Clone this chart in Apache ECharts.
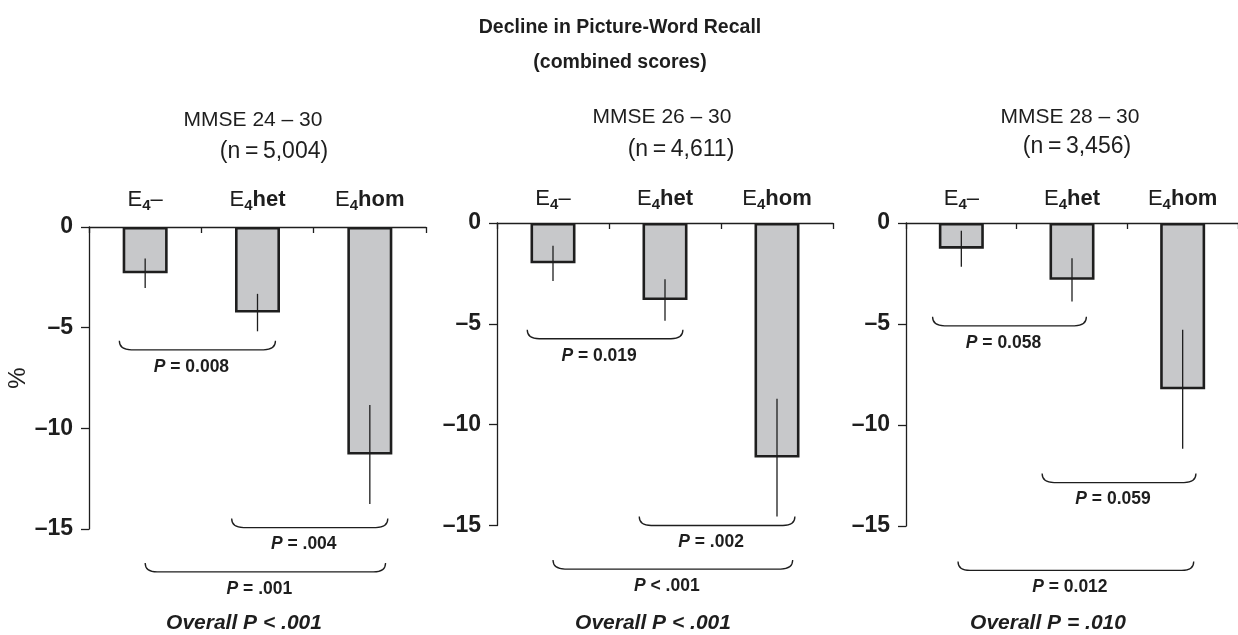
<!DOCTYPE html>
<html><head><meta charset="utf-8">
<script src="https://cdn.jsdelivr.net/npm/echarts@6/dist/echarts.min.js"></script>
<style>html,body{margin:0;padding:0;background:#fff}#c{width:1238px;height:635px}</style>
</head><body><div id="c"></div>
<script>
// ---------- data ----------
const categories = ['E4–', 'E4het', 'E4hom'];
const yTicks = [0, -5, -10, -15];
const chartTitle = 'Decline in Picture-Word Recall';
const chartSubtitle = '(combined scores)';
const panelTitles = ['MMSE 24 – 30', 'MMSE 26 – 30', 'MMSE 28 – 30'];
const panelN = ['(n\u2009=\u20095,004)', '(n\u2009=\u20094,611)', '(n\u2009=\u20093,456)'];
const overallP = ['Overall P < .001', 'Overall P < .001', 'Overall P = .010'];

const values1 = [-2.3, -4.25, -11.3];
const errors1 = [0.73, 0.93, 2.46];
const values2 = [-2.0, -3.82, -11.63];
const errors2 = [0.87, 1.03, 2.92];
const values3 = [-1.27, -2.81, -8.23];
const errors3 = [0.89, 1.07, 2.95];

// brackets: span in category index units, level in % units, p-value text
const bracketFrom1 = [-0.23, 0.77, 0.0];
const bracketTo1 = [1.16, 2.16, 2.14];
const bracketLevel1 = [-6.1, -14.93, -17.13];
const bracketP1 = ['= 0.008', '= .004', '= .001'];
const bracketFrom2 = [-0.23, 0.77, 0.0];
const bracketTo2 = [1.16, 2.16, 2.14];
const bracketLevel2 = [-5.74, -15.0, -17.16];
const bracketP2 = ['= 0.019', '= .002', '< .001'];
const bracketFrom3 = [-0.26, 0.73, -0.03];
const bracketTo3 = [1.13, 2.12, 2.10];
const bracketLevel3 = [-5.09, -12.85, -17.2];
const bracketP3 = ['= 0.058', '= 0.059', '= 0.012'];

// ---------- layout / style ----------
const FONT = '"Liberation Sans", Arial, Helvetica, sans-serif';
const INK = '#1e1e1e';
const panels = [
  { values: values1, errors: errors1, from: bracketFrom1, to: bracketTo1, level: bracketLevel1, p: bracketP1 },
  { values: values2, errors: errors2, from: bracketFrom2, to: bracketTo2, level: bracketLevel2, p: bracketP2 },
  { values: values3, errors: errors3, from: bracketFrom3, to: bracketTo3, level: bracketLevel3, p: bracketP3 }
];
const grids = [
  { left: 89, top: 227, width: 337, height: 302 },
  { left: 497, top: 223, width: 336, height: 302.5 },
  { left: 906, top: 223, width: 337, height: 303 }
];
const catMargins = [14, 11, 11];
const headerPos = [
  { t: [253, 120], n: [274, 152] },
  { t: [662, 117], n: [681, 150] },
  { t: [1070, 117], n: [1077, 147] }
];
const overallPos = [[244, 623], [653, 623], [1048, 623]];

const catRich = {
  e: { fontSize: 22, fontFamily: FONT, color: INK, lineHeight: 26, verticalAlign: 'middle' },
  b: { fontSize: 22, fontFamily: FONT, fontWeight: 'bold', color: INK, lineHeight: 26, verticalAlign: 'middle' },
  s: { fontSize: 15, fontFamily: FONT, fontWeight: 'bold', color: INK, lineHeight: 14, verticalAlign: 'bottom' }
};
function catLabel(v) {
  const rest = v.slice(2);
  return '{e|E}{s|4}' + (rest === '–' ? '{e|–}' : '{b|' + rest + '}');
}

const option = {
  animation: false,
  backgroundColor: '#fff',
  grid: grids.map(g => Object.assign({ containLabel: false }, g)),
  xAxis: grids.map((g, i) => ({
    type: 'category', gridIndex: i, data: categories, position: 'top',
    boundaryGap: true,
    axisLine: { show: true, lineStyle: { color: INK, width: 1.3 } },
    axisTick: { show: true, inside: true, length: 6, interval: 0, lineStyle: { color: INK, width: 1.3 } },
    axisLabel: { margin: catMargins[i], interval: 0, hideOverlap: false, formatter: catLabel, rich: catRich },
    splitLine: { show: false }
  })),
  yAxis: grids.map((g, i) => ({
    type: 'value', gridIndex: i, min: yTicks[yTicks.length - 1], max: yTicks[0], interval: 5,
    name: i === 0 ? '%' : '', nameLocation: 'middle', nameRotate: 90, nameGap: 58,
    nameTextStyle: { fontSize: 24, fontFamily: FONT, color: INK },
    axisLine: { show: true, lineStyle: { color: INK, width: 1.3 } },
    axisTick: { show: true, length: 8, lineStyle: { color: INK, width: 1.3 } },
    axisLabel: {
      margin: 16, fontSize: 23, fontWeight: 'bold', fontFamily: FONT, color: INK,
      formatter: v => (v < 0 ? '–' + Math.abs(v) : String(v))
    },
    splitLine: { show: false }
  })),
  series: [],
  graphic: []
};

panels.forEach((p, i) => {
  option.series.push({
    type: 'bar', xAxisIndex: i, yAxisIndex: i, data: p.values, barWidth: 45,
    itemStyle: { color: '#c7c8ca', borderColor: INK, borderWidth: 2.6 }, z: 2
  });
  option.series.push({
    type: 'custom', xAxisIndex: i, yAxisIndex: i, z: 5, clip: false,
    data: p.values.map((v, j) => [j, v, p.errors[j]]),
    renderItem: (params, api) => {
      const a = api.coord([api.value(0), api.value(1) + api.value(2)]);
      const b = api.coord([api.value(0), api.value(1) - api.value(2)]);
      return { type: 'line', shape: { x1: a[0], y1: a[1], x2: b[0], y2: b[1] },
        style: { stroke: INK, lineWidth: 1.3 } };
    }
  });
  option.series.push({
    type: 'custom', xAxisIndex: i, yAxisIndex: i, z: 6, clip: false,
    data: p.from.map((f, j) => [f, p.to[j], p.level[j], j]),
    renderItem: (params, api) => {
      const base = api.coord([0, api.value(2)]);
      const bw = api.size([1, 0])[0];
      const x1 = base[0] + api.value(0) * bw;
      const x2 = base[0] + api.value(1) * bw;
      const yb = base[1], yt = yb - 9, r = 12;
      const d = `M${x1} ${yt} Q${x1} ${yb} ${x1 + r} ${yb} L${x2 - r} ${yb} Q${x2} ${yb} ${x2} ${yt}`;
      const label = p.p[api.value(3)];
      return {
        type: 'group',
        children: [
          { type: 'path', shape: { pathData: d }, style: { fill: null, stroke: INK, lineWidth: 1.3 } },
          { type: 'text', x: (x1 + x2) / 2 - 6, y: yb + 17,
            style: {
              text: '{i|P} ' + label, fontSize: 17.5, fontWeight: 'bold', fontFamily: FONT, fill: INK,
              textAlign: 'center', textVerticalAlign: 'middle', align: 'center', verticalAlign: 'middle',
              rich: { i: { fontSize: 17.5, fontWeight: 'bold', fontStyle: 'italic', fontFamily: FONT, color: INK } }
            } }
        ]
      };
    }
  });
  option.graphic.push(
    { type: 'text', x: headerPos[i].t[0], y: headerPos[i].t[1],
      style: { text: panelTitles[i], fontSize: 21, fontFamily: FONT, fill: INK, textAlign: 'center', textVerticalAlign: 'middle' } },
    { type: 'text', x: headerPos[i].n[0], y: headerPos[i].n[1],
      style: { text: panelN[i], fontSize: 23, fontFamily: FONT, fill: INK, textAlign: 'center', textVerticalAlign: 'middle' } },
    { type: 'text', x: overallPos[i][0], y: overallPos[i][1],
      style: { text: overallP[i], fontSize: 21, fontWeight: 'bold', fontStyle: 'italic', fontFamily: FONT, fill: INK, textAlign: 'center', textVerticalAlign: 'middle' } }
  );
});
option.graphic.push(
  { type: 'text', x: 620, y: 28, style: { text: chartTitle, fontSize: 19.5, fontWeight: 'bold', fontFamily: FONT, fill: INK, textAlign: 'center', textVerticalAlign: 'middle' } },
  { type: 'text', x: 620, y: 63, style: { text: chartSubtitle, fontSize: 19.5, fontWeight: 'bold', fontFamily: FONT, fill: INK, textAlign: 'center', textVerticalAlign: 'middle' } }
);

const chart = echarts.init(document.getElementById('c'));
chart.setOption(option);
</script></body></html>
